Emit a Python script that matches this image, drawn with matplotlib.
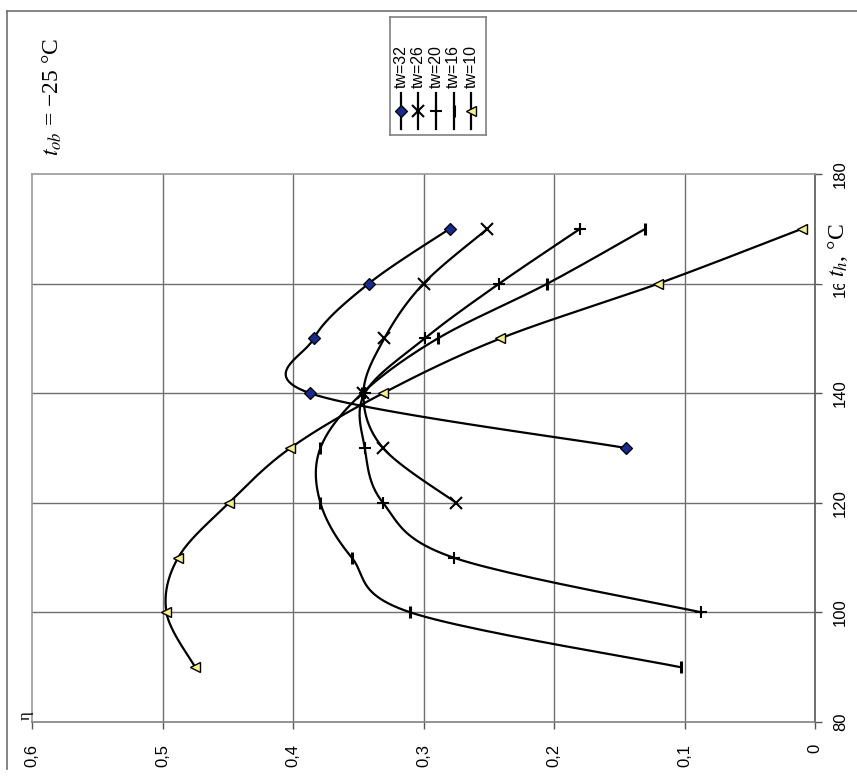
import numpy as np
import matplotlib
matplotlib.use("Agg")
import matplotlib.pyplot as plt
from matplotlib.lines import Line2D

plt.rcParams['font.family'] = ['Liberation Sans', 'DejaVu Sans']
plt.rcParams['mathtext.fontset'] = 'stix'

# t_h, C  ->  efficiency eta for each tw
t_32 = [130, 140, 150, 160, 170]
eta_32 = [0.145, 0.387, 0.384, 0.342, 0.280]

t_26 = [120, 130, 140, 150, 160, 170]
eta_26 = [0.275, 0.331, 0.346, 0.330, 0.300, 0.251]

t_20 = [100, 110, 120, 130, 140, 150, 160, 170]
eta_20 = [0.087, 0.277, 0.331, 0.345, 0.345, 0.299, 0.242, 0.180]

t_16 = [90, 100, 110, 120, 130, 140, 150, 160, 170]
eta_16 = [0.103, 0.310, 0.355, 0.379, 0.379, 0.347, 0.289, 0.205, 0.130]

t_10 = [90, 100, 110, 120, 130, 140, 150, 160, 170]
eta_10 = [0.475, 0.497, 0.488, 0.449, 0.402, 0.331, 0.241, 0.120, 0.010]

labels = ['tw=32', 'tw=26', 'tw=20', 'tw=16', 'tw=10']
eta_ticks = [0.6, 0.5, 0.4, 0.3, 0.2, 0.1, 0.0]
eta_ticklabels = ['0,6', '0,5', '0,4', '0,3', '0,2', '0,1', '0']
t_ticks = [80, 100, 120, 140, 160, 180]

series = [(t_32, eta_32), (t_26, eta_26), (t_20, eta_20), (t_16, eta_16), (t_10, eta_10)]
# the sheet is turned on its side: markers drawn in the turned orientation
styles = [
    dict(marker='D', ms=6, mfc='#1a2a8c', mec='black', mew=0.9),
    dict(marker='x', ms=8, mfc='none', mec='black', mew=1.5),
    dict(marker='+', ms=8, mfc='none', mec='black', mew=1.5),
    dict(marker='|', ms=9, mfc='none', mec='black', mew=2.2),
    dict(marker='<', ms=7.5, mfc='#f5f08a', mec='black', mew=1.0),
]


def smooth(x, y, n=24):
    # Catmull-Rom curve through the points, like a spreadsheet smoothed line
    p = np.column_stack([x, y]).astype(float)
    p = np.vstack([p[0], p, p[-1]])
    out = []
    s = np.linspace(0, 1, n, endpoint=False)[:, None]
    for i in range(1, len(p) - 2):
        p0, p1, p2, p3 = p[i - 1], p[i], p[i + 1], p[i + 2]
        c = 0.5 * ((2 * p1) + (-p0 + p2) * s + (2 * p0 - 5 * p1 + 4 * p2 - p3) * s ** 2
                   + (-p0 + 3 * p1 - 3 * p2 + p3) * s ** 3)
        out.append(c)
    out.append(p[-2][None, :])
    out = np.vstack(out)
    return out[:, 0], out[:, 1]


W, H = 857, 784
fig = plt.figure(figsize=(W / 100, H / 100), dpi=100)
ax = fig.add_axes([32 / W, 1 - 722 / H, (815 - 32) / W, (722 - 174) / H])

ax.set_xlim(0.6, 0.0)
ax.set_ylim(80, 180)

for xv in eta_ticks[1:-1]:
    ax.axvline(xv, color='#707070', lw=1.0, zorder=1)
for yv in t_ticks[1:-1]:
    ax.axhline(yv, color='#707070', lw=1.0, zorder=1)

for (t, eta), st in zip(series, styles):
    sx, sy = smooth(eta, t)
    ax.plot(sx, sy, color='black', lw=1.6, zorder=3)
    ax.plot(eta, t, ls='none', zorder=4, **st)

ax.set_xticks(eta_ticks)
ax.set_xticklabels(eta_ticklabels, rotation=90, fontsize=12)
ax.yaxis.tick_right()
ax.set_yticks(t_ticks)
ax.set_yticklabels([str(v) for v in t_ticks], rotation=90, va='center', fontsize=12)
ax.tick_params(axis='both', length=5, width=1, color='#555555')
ax.tick_params(axis='x', pad=11)
ax.tick_params(axis='y', pad=8)

ax.spines['right'].set_color('#555555')
ax.spines['bottom'].set_color('#808080')
ax.spines['left'].set_color('#9a9a9a')
ax.spines['top'].set_color('#9a9a9a')
for sp in ax.spines.values():
    sp.set_linewidth(1.2)

# outer frame of the sheet
fig.add_artist(Line2D([7 / W, 7 / W], [1 - 11 / H, 1 - 769 / H], transform=fig.transFigure,
                      color='#707070', lw=1.2))
fig.add_artist(Line2D([7 / W, 1], [1 - 11 / H, 1 - 11 / H], transform=fig.transFigure,
                      color='#707070', lw=1.2))

fig.text(52 / W, 1 - 97 / H, r'$t_{ob}$ = −25 °C', rotation=90, ha='center', va='center',
         fontsize=17, family=['Liberation Serif', 'DejaVu Serif'])
fig.text(838 / W, 1 - 250 / H, r'$t_h$, °C', rotation=90, ha='center', va='center',
         fontsize=17, family=['Liberation Serif', 'DejaVu Serif'],
         bbox=dict(facecolor='white', edgecolor='none', pad=5), zorder=10)
fig.text(26 / W, 1 - 716 / H, 'η', rotation=90, ha='center', va='center',
         fontsize=12, family=['Liberation Serif', 'DejaVu Serif'])

# legend box, laid out sideways like the rest of the sheet
lg = fig.add_axes([390 / W, 1 - 135 / H, (486 - 390) / W, (135 - 17) / H])
lg.set_xlim(390, 486)
lg.set_ylim(135, 17)
lg.set_xticks([])
lg.set_yticks([])
for sp in lg.spines.values():
    sp.set_color('#808080')
    sp.set_linewidth(1.2)
for i, (lab, st) in enumerate(zip(labels, styles)):
    x = 401 + i * 17.5
    lg.plot([x, x], [129, 93], color='black', lw=1.6)
    lg.plot([x], [111], ls='none', **st)
    lg.text(x, 88, lab, rotation=90, ha='center', va='bottom', fontsize=11.5)

fig.savefig('out.png', dpi=100)
